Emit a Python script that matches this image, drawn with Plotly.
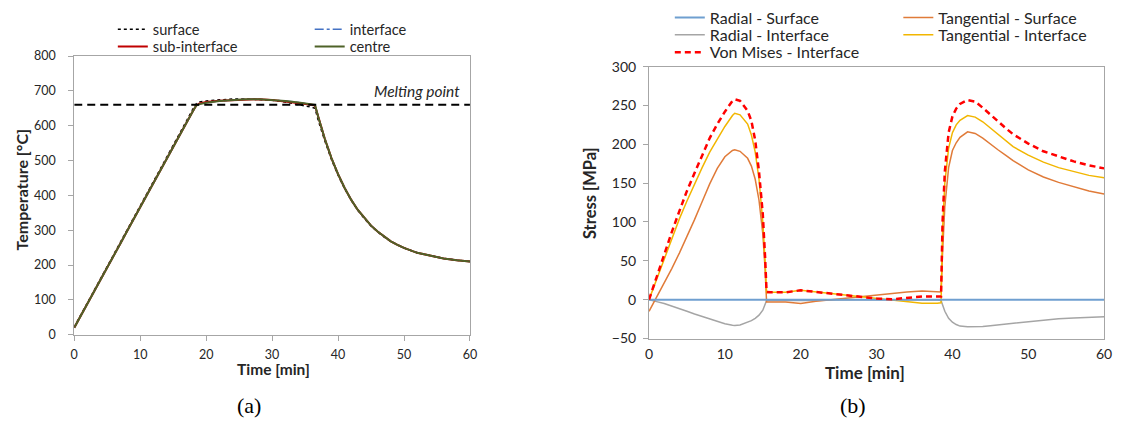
import plotly.graph_objects as go

# ---------------- (a) Temperature ----------------
time_a = [0, 1, 2, 3, 4, 5, 6, 7, 8, 9, 10, 11, 12, 13, 14, 15, 16, 17, 18, 18.5, 19, 20,
          22, 24, 26, 28, 30, 32, 34, 35, 36, 36.5, 37, 38, 39, 40, 41, 42, 43, 44, 45, 46,
          47, 48, 49, 50, 52, 54, 56, 58, 60]
temp_surface = [22, 57, 92, 127, 162, 197, 232, 267, 302, 337, 371, 405, 440, 475, 510, 545, 580, 614, 648, 663, 668, 671,
                675, 677, 677, 676, 673, 668, 661, 657, 653, 650, 615, 556, 503, 458, 419, 386, 357, 333, 312, 295,
                280, 268, 258, 249, 235, 226, 219, 214, 210]
temp_interface = [20, 54, 88, 123, 158, 193, 228, 262, 297, 332, 366, 400, 435, 470, 505, 540, 575, 608, 642, 658, 663, 667,
                  671, 674, 676, 676, 674, 671, 667, 664, 661, 659, 625, 562, 507, 461, 421, 387, 358, 334, 313, 296,
                  281, 268, 258, 249, 235, 226, 219, 214, 210]
temp_subinterface = [20, 54, 88, 123, 158, 193, 228, 262, 297, 332, 366, 400, 435, 470, 505, 540, 575, 608, 642, 658, 664, 668,
                     672, 674, 676, 676, 674, 670, 666, 663, 660, 658, 625, 562, 507, 461, 421, 387, 358, 334, 313, 296,
                     281, 268, 258, 249, 235, 226, 219, 214, 210]
temp_centre = [20, 54, 88, 123, 158, 193, 228, 262, 297, 332, 366, 400, 435, 470, 505, 540, 575, 608, 642, 658, 662, 666,
               671, 674, 676, 676, 674, 671, 667, 665, 662, 660, 625, 562, 507, 461, 421, 387, 358, 334, 313, 296,
               281, 268, 258, 249, 235, 226, 219, 214, 210]
melting_time = [0, 60]
melting_temp = [660, 660]

# ---------------- (b) Stress ----------------
time_b = [0, 0.5, 1, 2, 3, 4, 5, 6, 7, 8, 9, 10, 11, 11.3, 12, 13, 13.5, 14, 14.5, 15, 15.3, 15.5,
          16, 18, 20, 22, 24, 26, 28, 30, 32, 34, 36, 38, 38.5, 38.7, 39, 39.5, 40, 40.5, 41,
          42, 43, 44, 45, 46, 47, 48, 50, 52, 54, 56, 58, 60]
time_rs = [0, 60]
radial_surface = [0, 0]
radial_interface = [0, -1, -2.5, -5, -8, -11.5, -15, -18.5, -21.5, -25, -28.5, -31, -33, -33.2, -32.5, -29.5, -27, -24, -20, -13.5, -7, -1,
                    -1, -1, -1.5, -1, -0.5, 0, 0, 0, 0, -0.5, -0.5, -0.5, -1, -8, -15, -24, -29, -32, -34,
                    -35, -35, -34.5, -33.5, -32.5, -31.5, -30.5, -28, -26, -24.5, -23.5, -22.5, -22]
tangential_surface = [-15, -6, 3, 21, 40, 60, 81, 103, 126, 149, 169, 184, 192, 193, 191, 182, 172, 155, 128, 85, 40, -3,
                      -3, -3, -5, -2, 0, 2, 4, 6, 8, 10, 11, 10.5, 10, 60, 120, 170, 192, 202, 209,
                      216, 214, 208, 200, 193, 186, 179, 167, 158, 151, 145, 140, 136]
tangential_interface = [0, 13, 27, 54, 80, 104, 127, 149, 170, 190, 207, 223, 237, 240, 238, 226, 212, 190, 155, 100, 50, 9,
                        9.5, 9.5, 12, 10, 7.5, 5.5, 3.5, 1.5, -0.5, -2.5, -4.5, -4.5, -4, 90, 150, 195, 215, 225, 231,
                        237, 235, 229, 221, 212, 204, 197, 186, 177, 170, 165, 160, 157]
von_mises_interface = [0, 15, 30, 59, 87, 114, 140, 163, 186, 208, 226, 242, 256, 258, 256, 243, 230, 205, 165, 110, 55, 10,
                       9.5, 9.5, 12, 10, 7.5, 5.5, 3.5, 1.5, 0.5, 2.5, 4, 4, 4, 100, 165, 215, 236, 246, 252,
                       257, 255, 247, 238, 229, 221, 213, 201, 191, 184, 178, 173, 169]

FONT = "Lato, 'Open Sans', sans-serif"
AXC = "#A6A6A6"
TXT = "#262626"

W, H = 1122, 432
def fx(px):
    return px / W
def fy(py):
    return 1 - py / H

fig = go.Figure()

# left traces
fig.add_trace(go.Scatter(x=time_a, y=temp_surface, name="surface", mode="lines",
                         line=dict(color="#000000", width=1.5, dash="dot"), xaxis="x", yaxis="y", legend="legend"))
fig.add_trace(go.Scatter(x=time_a, y=temp_interface, name="interface", mode="lines",
                         line=dict(color="#4472C4", width=1.5, dash="dashdot"), xaxis="x", yaxis="y", legend="legend2"))
fig.add_trace(go.Scatter(x=time_a, y=temp_subinterface, name="sub-interface", mode="lines",
                         line=dict(color="#C00000", width=2), xaxis="x", yaxis="y", legend="legend3"))
fig.add_trace(go.Scatter(x=time_a, y=temp_centre, name="centre", mode="lines",
                         line=dict(color="#4F6228", width=2), xaxis="x", yaxis="y", legend="legend4"))
fig.add_trace(go.Scatter(x=melting_time, y=melting_temp, name="Melting point", mode="lines", showlegend=False,
                         line=dict(color="#000000", width=2, dash="8px,5px"), xaxis="x", yaxis="y"))

# right traces
fig.add_trace(go.Scatter(x=time_b, y=radial_interface, name="Radial - Interface", mode="lines",
                         line=dict(color="#A5A5A5", width=1.5), xaxis="x2", yaxis="y2", legend="legend7"))
fig.add_trace(go.Scatter(x=time_b, y=tangential_surface, name="Tangential - Surface", mode="lines",
                         line=dict(color="#E07B39", width=1.5), xaxis="x2", yaxis="y2", legend="legend6"))
fig.add_trace(go.Scatter(x=time_b, y=tangential_interface, name="Tangential - Interface", mode="lines",
                         line=dict(color="#F2B600", width=1.5), xaxis="x2", yaxis="y2", legend="legend8"))
fig.add_trace(go.Scatter(x=time_rs, y=radial_surface, name="Radial - Surface", mode="lines",
                         line=dict(color="#6F9FD0", width=2), xaxis="x2", yaxis="y2", legend="legend5"))
fig.add_trace(go.Scatter(x=time_b, y=von_mises_interface, name="Von Mises - Interface", mode="lines",
                         line=dict(color="#FF0000", width=2.5, dash="6px,4px"), xaxis="x2", yaxis="y2", legend="legend9"))

def axis(size, standoff, ticks="outside"):
    return dict(showgrid=False, zeroline=False, showline=True, linecolor=AXC, linewidth=1, mirror=True,
                ticks=ticks, ticklen=5, tickcolor=AXC, ticklabelstandoff=standoff,
                tickfont=dict(family=FONT, size=size, color=TXT))

def leg(text_x, ypx, size):
    return dict(orientation="v", x=fx(text_x - 43), y=fy(ypx), xanchor="left", yanchor="middle",
                font=dict(family=FONT, size=size, color=TXT), bgcolor="rgba(0,0,0,0)",
                borderwidth=0, tracegroupgap=0)

# position of stress = 0 inside the right plot (for the Excel-style tick marks on the zero line)
y2_lo, y2_hi = fy(343), fy(60)
zero_pos = y2_lo + (0 - (-50)) / (300 - (-50)) * (y2_hi - y2_lo)

fig.update_layout(
    width=W, height=H, margin=dict(l=0, r=0, t=0, b=0),
    paper_bgcolor="white", plot_bgcolor="white",
    showlegend=True,
    xaxis=dict(domain=[fx(71), fx(471)], range=[0, 60], dtick=10, anchor="y", **axis(12.5, 3)),
    yaxis=dict(domain=[fy(339), fy(49)], range=[0, 800], dtick=100, anchor="x", **axis(12.5, 10)),
    xaxis2=dict(domain=[fx(652), fx(1112)], range=[0, 60], dtick=10, anchor="y2", **axis(14, 3, ticks="")),
    yaxis2=dict(domain=[fy(343), fy(60)], range=[-50, 300], dtick=50, anchor="x2", **axis(14, 4)),
    xaxis3=dict(domain=[fx(652), fx(1112)], range=[0, 60], dtick=10, overlaying="x2", anchor="free",
                position=zero_pos, side="bottom", showline=False, showgrid=False, zeroline=False,
                ticks="inside", ticklen=4, tickcolor=AXC, showticklabels=False),
    legend=leg(153, 21, 14.6),
    legend2=leg(352, 21, 14.6),
    legend3=leg(153, 39, 14.6),
    legend4=leg(352, 39, 14.6),
    legend5=leg(716, 9, 16),
    legend6=leg(947, 9, 16),
    legend7=leg(716, 27, 16),
    legend8=leg(947, 27, 16),
    legend9=leg(716, 45, 16),
    annotations=[
        dict(text="<i>Melting point</i>", x=58.8, y=700, xref="x", yref="y", xanchor="right", yanchor="middle",
             showarrow=False, font=dict(family=FONT, size=15.5, color=TXT)),
        dict(text="<b>Time [min]</b>", x=fx(272), y=fy(375), xref="paper", yref="paper", xanchor="center", yanchor="middle",
             showarrow=False, font=dict(family=FONT, size=15.5, color=TXT)),
        dict(text="<b>Time [min]</b>", x=fx(870), y=fy(378), xref="paper", yref="paper", xanchor="center", yanchor="middle",
             showarrow=False, font=dict(family=FONT, size=17, color=TXT)),
        dict(text="<b>Temperature [°C]</b>", x=fx(18), y=fy(188), xref="paper", yref="paper", xanchor="center", yanchor="middle",
             textangle=-90, showarrow=False, font=dict(family=FONT, size=16, color=TXT)),
        dict(text="<b>Stress [MPa]</b>", x=fx(593), y=fy(192), xref="paper", yref="paper", xanchor="center", yanchor="middle",
             textangle=-90, showarrow=False, font=dict(family=FONT, size=16.5, color=TXT)),
        dict(text="(a)", x=fx(248), y=fy(413), xref="paper", yref="paper", xanchor="center", yanchor="middle",
             showarrow=False, font=dict(family="'Liberation Serif', serif", size=22, color="#000000")),
        dict(text="(b)", x=fx(858), y=fy(413), xref="paper", yref="paper", xanchor="center", yanchor="middle",
             showarrow=False, font=dict(family="'Liberation Serif', serif", size=22, color="#000000")),
    ],
)

fig.write_html("out.html")
